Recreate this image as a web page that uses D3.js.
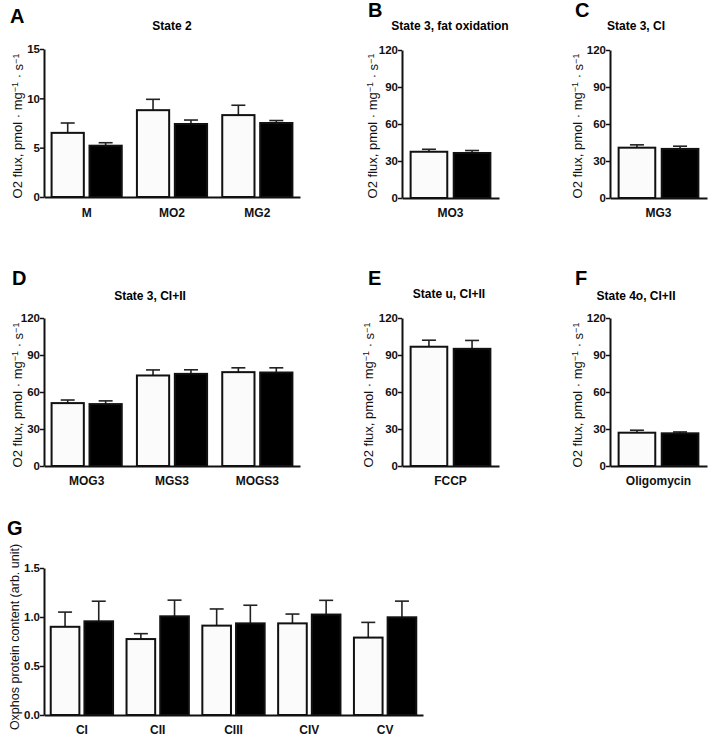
<!DOCTYPE html>
<html><head><meta charset="utf-8">
<script src="https://cdn.jsdelivr.net/npm/d3@7"></script>
<style>body{margin:0;background:#fff}svg{display:block}text{font-family:"Liberation Sans",Arial,sans-serif}</style>
</head><body>
<svg id="c" width="709" height="736"></svg>
<script>
// ---- data ----
const catA = ["M", "MO2", "MG2"];
const ctrlA = [6.5, 8.8, 8.3];
const ctrlA_err = [1.0, 1.1, 1.0];
const trtA = [5.2, 7.4, 7.5];
const trtA_err = [0.3, 0.4, 0.25];

const catB = ["MO3"];
const ctrlB = [37.5];
const ctrlB_err = [2.0];
const trtB = [36.5];
const trtB_err = [2.0];

const catC = ["MG3"];
const ctrlC = [40.8];
const ctrlC_err = [2.3];
const trtC = [39.8];
const trtC_err = [2.2];

const catD = ["MOG3", "MGS3", "MOGS3"];
const ctrlD = [51.0, 73.4, 76.1];
const ctrlD_err = [2.5, 4.5, 3.5];
const trtD = [50.2, 74.7, 75.8];
const trtD_err = [2.6, 3.3, 3.8];

const catE = ["FCCP"];
const ctrlE = [96.7];
const ctrlE_err = [5.3];
const trtE = [95.0];
const trtE_err = [6.8];

const catF = ["Oligomycin"];
const ctrlF = [27.0];
const ctrlF_err = [2.0];
const trtF = [26.5];
const trtF_err = [1.1];

const catG = ["CI", "CII", "CIII", "CIV", "CV"];
const ctrlG = [0.90, 0.775, 0.912, 0.935, 0.79];
const ctrlG_err = [0.15, 0.055, 0.17, 0.095, 0.155];
const trtG = [0.956, 1.007, 0.935, 1.025, 0.997];
const trtG_err = [0.205, 0.165, 0.185, 0.145, 0.165];

const ticksA = [0, 5, 10, 15];
const ticksFlux = [0, 30, 60, 90, 120];
const ticksG = [0, 0.5, 1.0, 1.5];
const fmtG = d3.format(".1f");

const fluxLabel = ["O2 flux, pmol · mg", "−1", " · s", "−1"];
const labelG = "Oxphos protein content (arb. unit)";

// ---- layout ----
const svg = d3.select("#c");

const panels = [
  {letter:"A", lx:10, ly:23, title:"State 2", tx:172, ty:30, cats:catA, c:ctrlA, ce:ctrlA_err, t:trtA, te:trtA_err,
   x0:44, x1:300, y0:197, y1:49, dom:[0,15], ticks:ticksA, tf:d3.format("d"), ylx:17, yly:126, yl:"flux", xly:217},
  {letter:"B", lx:368, ly:17, title:"State 3, fat oxidation", tx:450, ty:30, cats:catB, c:ctrlB, ce:ctrlB_err, t:trtB, te:trtB_err,
   x0:402, x1:499, y0:198, y1:50, dom:[0,120], ticks:ticksFlux, tf:d3.format("d"), ylx:372, yly:126, yl:"flux", xly:217},
  {letter:"C", lx:575, ly:17, title:"State 3, CI", tx:636, ty:30, cats:catC, c:ctrlC, ce:ctrlC_err, t:trtC, te:trtC_err,
   x0:610, x1:707, y0:198, y1:50, dom:[0,120], ticks:ticksFlux, tf:d3.format("d"), ylx:577, yly:126, yl:"flux", xly:217},
  {letter:"D", lx:12, ly:285, title:"State 3, CI+II", tx:150, ty:300, cats:catD, c:ctrlD, ce:ctrlD_err, t:trtD, te:trtD_err,
   x0:44, x1:300, y0:466, y1:318, dom:[0,120], ticks:ticksFlux, tf:d3.format("d"), ylx:17, yly:395, yl:"flux", xly:485},
  {letter:"E", lx:368, ly:285, title:"State u, CI+II", tx:449, ty:298, cats:catE, c:ctrlE, ce:ctrlE_err, t:trtE, te:trtE_err,
   x0:402, x1:499, y0:466, y1:318, dom:[0,120], ticks:ticksFlux, tf:d3.format("d"), ylx:368, yly:395, yl:"flux", xly:485},
  {letter:"F", lx:575, ly:285, title:"State 4o, CI+II", tx:636, ty:300, cats:catF, c:ctrlF, ce:ctrlF_err, t:trtF, te:trtF_err,
   x0:610, x1:707, y0:466, y1:318, dom:[0,120], ticks:ticksFlux, tf:d3.format("d"), ylx:577, yly:395, yl:"flux", xly:485},
  {letter:"G", lx:7, ly:535, title:null, cats:catG, c:ctrlG, ce:ctrlG_err, t:trtG, te:trtG_err,
   x0:44, x1:423, y0:715, y1:568, dom:[0,1.5], ticks:ticksG, tf:fmtG, ylx:15, yly:637, yl:"G", xly:734}
];

panels.forEach(p => {
  const g = svg.append("g");
  const x = d3.scaleBand().domain(p.cats).range([p.x0, p.x1]).paddingInner(0).paddingOuter(0);
  const xs = d3.scaleBand().domain(["ctrl","trt"]).range([0, x.bandwidth()]).paddingInner(0.15).paddingOuter(0.2);
  const y = d3.scaleLinear().domain(p.dom).range([p.y0, p.y1]);

  // letter
  g.append("text").attr("x", p.lx).attr("y", p.ly).attr("font-size", 20).attr("font-weight", "bold").text(p.letter);
  if (p.title) g.append("text").attr("x", p.tx).attr("y", p.ty).attr("text-anchor","middle")
      .attr("font-size", 12).attr("font-weight","bold").text(p.title);

  const rows = [];
  p.cats.forEach((cat, i) => {
    rows.push({cat, k:"ctrl", v:p.c[i], e:p.ce[i]});
    rows.push({cat, k:"trt", v:p.t[i], e:p.te[i]});
  });

  // error bars (upper only)
  const capW = 14;
  rows.forEach(r => {
    const cx = x(r.cat) + xs(r.k) + xs.bandwidth()/2;
    g.append("line").attr("x1", cx).attr("x2", cx).attr("y1", y(r.v)).attr("y2", y(r.v + r.e))
      .attr("stroke", "#222").attr("stroke-width", 1.6);
    g.append("line").attr("x1", cx - capW/2).attr("x2", cx + capW/2).attr("y1", y(r.v + r.e)).attr("y2", y(r.v + r.e))
      .attr("stroke", "#222").attr("stroke-width", 1.6);
  });

  // bars
  g.selectAll("rect.bar").data(rows).join("rect").attr("class","bar")
    .attr("x", d => x(d.cat) + xs(d.k))
    .attr("width", xs.bandwidth())
    .attr("y", d => y(d.v))
    .attr("height", d => y(p.dom[0]) - y(d.v))
    .attr("fill", d => d.k === "ctrl" ? "#fbfbfb" : "#000")
    .attr("stroke", "#111").attr("stroke-width", 2);

  // y axis
  const ya = d3.axisLeft(y).tickValues(p.ticks).tickFormat(p.tf).tickSize(4).tickSizeOuter(0);
  const yg = g.append("g").attr("transform", `translate(${p.x0},0)`).call(ya);
  yg.select(".domain").attr("stroke", "#111").attr("stroke-width", 2);
  yg.selectAll(".tick line").attr("stroke", "#111").attr("stroke-width", 1.5);
  yg.selectAll(".tick text").attr("font-size", 11.5).attr("font-weight", "bold").attr("fill", "#111")
    .attr("font-family", '"Liberation Sans",Arial,sans-serif').attr("x", -4);

  // x axis
  const xa = d3.axisBottom(x).tickSize(0).tickSizeOuter(0).tickPadding(0);
  const xg = g.append("g").attr("transform", `translate(0,${p.y0})`).call(xa);
  xg.select(".domain").attr("stroke", "#111").attr("stroke-width", 2.2);
  xg.selectAll(".tick text").attr("font-size", 12).attr("font-weight","bold").attr("fill","#111")
    .attr("font-family", '"Liberation Sans",Arial,sans-serif')
    .attr("y", p.xly - p.y0).attr("dy", 0);

  // y label
  const lt = g.append("text").attr("transform", `translate(${p.ylx},${p.yly}) rotate(-90)`)
    .attr("text-anchor", "middle").attr("dy", "0.35em").attr("fill", "#111");
  if (p.yl === "flux") {
    lt.attr("font-size", 13);
    lt.append("tspan").text(fluxLabel[0]);
    lt.append("tspan").attr("dy", "-0.45em").attr("font-size", 9).text(fluxLabel[1]);
    lt.append("tspan").attr("dy", "0.45em").text(fluxLabel[2]);
    lt.append("tspan").attr("dy", "-0.45em").attr("font-size", 9).text(fluxLabel[3]);
  } else {
    lt.attr("font-size", 12.5).text(labelG);
  }
});
</script>
</body></html>
